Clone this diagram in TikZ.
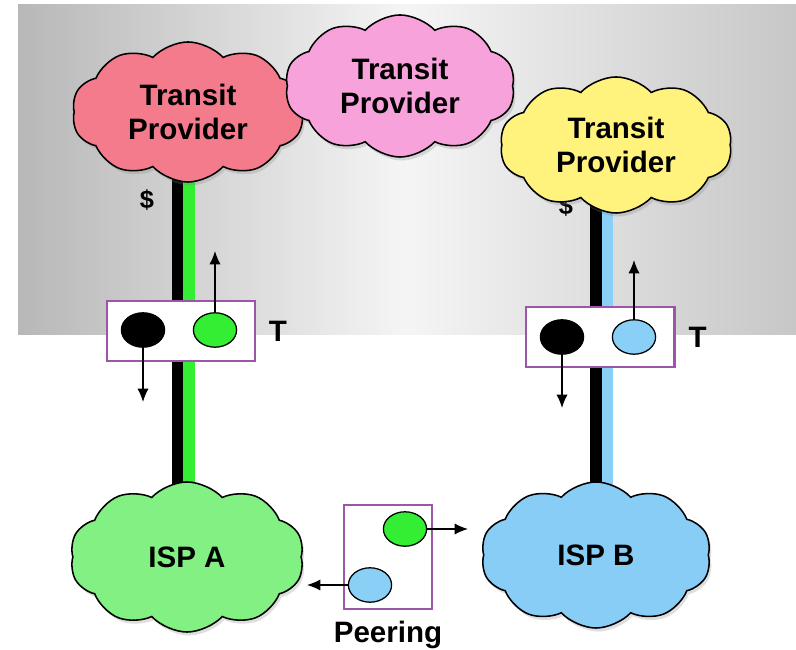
\documentclass[tikz,border=0pt]{standalone}
\usepackage{fontspec}
\setsansfont{Liberation Sans}
\usetikzlibrary{shapes.symbols,shapes.geometric,positioning,calc,shadows,arrows.meta}
\pgfdeclarelayer{bg}
\pgfdeclarelayer{mid}
\pgfsetlayers{bg,mid,main}
\definecolor{tpred}{HTML}{F47B8C}
\definecolor{tppink}{HTML}{F8A2DC}
\definecolor{tpyellow}{HTML}{FFF37E}
\definecolor{ispgreen}{HTML}{82F082}
\definecolor{ispblue}{HTML}{88CDF6}
\definecolor{dotgreen}{HTML}{33EE33}
\definecolor{dotblue}{HTML}{8ACFF5}
\definecolor{boxpurple}{HTML}{9C55A8}

\begin{document}
\begin{tikzpicture}
		[x=0.025cm,y=0.025cm,
		net/.style ={cloud, cloud puffs=10, cloud puff arc=95, cloud ignores aspect, draw=black, line width=1.1pt, align=center, font=\sffamily\bfseries\fontsize{21}{24}\selectfont, drop shadow={opacity=0.25, shadow xshift=1.5pt, shadow yshift=-2.5pt}},
		box/.style ={rectangle, draw=boxpurple, line width=2.1pt, fill=white, minimum width=3.7cm, minimum height=1.5cm},
		dot/.style ={ellipse, draw=black, line width=0.9pt, minimum width=1.08cm, minimum height=0.86cm, inner sep=0pt},
		line/.style ={draw, line width=1pt, -{Latex[length=9.5pt,width=8pt]}},
		bar/.style ={line width=0.28cm},
		lbl/.style ={font=\sffamily\bfseries\fontsize{21}{24}\selectfont, inner sep=0pt}]
		\useasboundingbox (0,0) rectangle (796,650);

		% clouds
		\node[net, fill=tpred, minimum width=5.8cm, minimum height=3.5cm] (tpA) at (188,538) {Transit\\Provider};
		\node[net, fill=tpyellow, minimum width=5.8cm, minimum height=3.4cm] (tpC) at (616,505) {Transit\\Provider};
		\node[net, fill=tppink, minimum width=5.75cm, minimum height=3.55cm] (tpB) at (400,564) {Transit\\Provider};
		\node[net, fill=ispgreen, minimum width=5.85cm, minimum height=3.75cm] (ispA) at (187,93) {ISP A};
		\node[net, fill=ispblue, minimum width=5.75cm, minimum height=3.65cm] (ispB) at (596,95) {ISP B};

		% transit boxes
		\node[box] (tA) at (181,319) {};
		\node[dot, fill=black] (kA) at (143,320) {};
		\node[dot, fill=dotgreen] (gA) at (215,320) {};
		\node[lbl, right=0.3cm of tA] {T};
		\node[box] (tB) at (600,313) {};
		\node[dot, fill=black] (kB) at (562,313) {};
		\node[dot, fill=dotblue] (bB) at (634,313) {};
		\node[lbl, right=0.32cm of tB] {T};

		% peering box
		\node[box, minimum width=2.2cm, minimum height=2.6cm] (pbox) at (388,93) {};
		\node[dot, fill=dotgreen] (gP) at (405,121) {};
		\node[dot, fill=dotblue] (bP) at (370,65) {};
		\node[lbl, below=0.27cm of pbox] {Peering};

		\coordinate (upA) at (215,399);
		\coordinate (downA) at (143,248);
		\coordinate (upB) at (634,390);
		\coordinate (downB) at (562,242);
		\coordinate (toB) at (468,121);
		\coordinate (toA) at (307,65);

		\path[line]
		(gA) edge (upA)
		(kA.center) edge (downA)
		(bB) edge (upB)
		(kB.center) edge (downB)
		(gP) edge (toB)
		(bP) edge (toA);

		\begin{pgfonlayer}{mid}
		\draw[bar, black] ([xshift=-0.24cm]ispA.center) -- ([xshift=-0.24cm]ispA.center |- tpA.center);
		\draw[bar, dotgreen] ([xshift=0.05cm]ispA.center) -- ([xshift=0.05cm]ispA.center |- tpA.center);
		\draw[bar, black] (ispB.center) -- (ispB.center |- tpC.center);
		\draw[bar, dotblue] ([xshift=0.29cm]ispB.center) -- ([xshift=0.29cm]ispB.center |- tpC.center);
		\node[lbl, font=\sffamily\bfseries\fontsize{18}{20}\selectfont] (usdA) at (147,450) {\$};
		\node[lbl, font=\sffamily\bfseries\fontsize{18}{20}\selectfont] (usdB) at (566,444) {\$};
		\end{pgfonlayer}

		\begin{pgfonlayer}{bg}
		\shade[left color=black!28, right color=black!22, middle color=black!4] (18,315) rectangle (796,645);
		\end{pgfonlayer}

	\end{tikzpicture}
\end{document}
